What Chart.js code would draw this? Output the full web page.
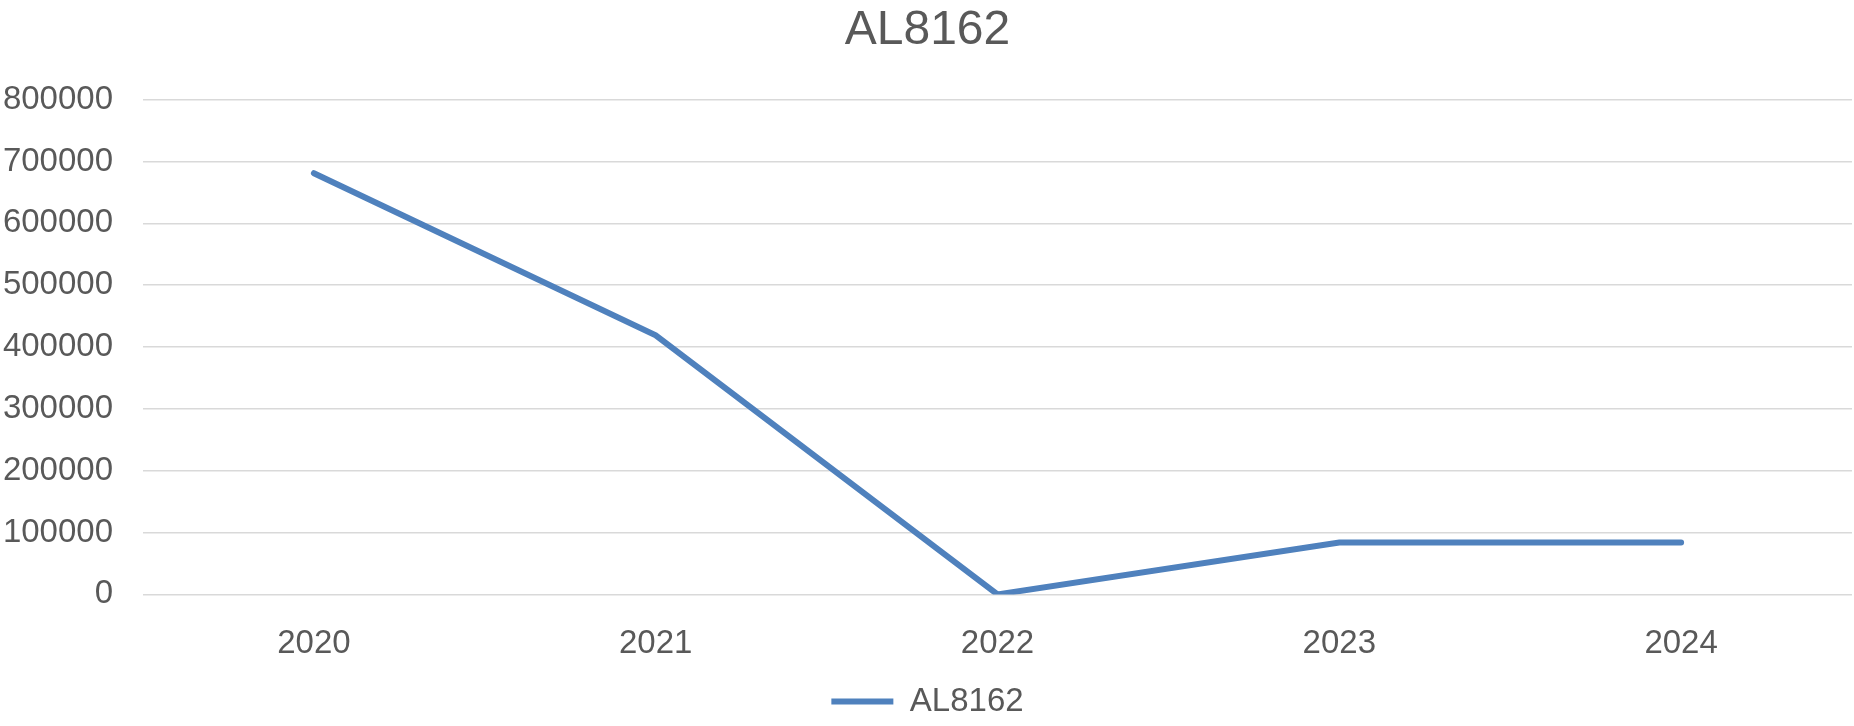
<!DOCTYPE html>
<html>
<head>
<meta charset="utf-8">
<title>AL8162</title>
<script src="https://cdn.jsdelivr.net/npm/chart.js@4"></script>
<style>
    html, body { margin: 0; padding: 0; background: #ffffff; }
    #wrap { width: 1854px; height: 726px; position: relative; }
</style>
</head>
<body>
<div id="wrap"><canvas id="chart"></canvas></div>
<script>
// --- DATA ---
const years = ['2020', '2021', '2022', '2023', '2024'];
const al8162Values = [681000, 419000, 0, 84000, 84000];
const seriesName = 'AL8162';
const yMin = 0;
const yMax = 800000;
const yStep = 100000;

const textColor = '#595959';
const lineColor = '#4f81bd';
const gridColor = '#d9d9d9';
const fontFamily = '"Liberation Sans", Arial, sans-serif';

new Chart(document.getElementById('chart'), {
    type: 'line',
    data: {
        labels: years,
        datasets: [{
            label: seriesName,
            data: al8162Values,
            borderColor: lineColor,
            backgroundColor: lineColor,
            borderWidth: 6,
            borderCapStyle: 'round',
            pointRadius: 0,
            pointHoverRadius: 0,
            tension: 0,
            fill: false
        }]
    },
    options: {
        responsive: true,
        maintainAspectRatio: false,
        animation: false,
        layout: {
            padding: { left: 3, right: 2, top: 0, bottom: -2 }
        },
        plugins: {
            title: {
                display: true,
                text: seriesName,
                color: textColor,
                font: { family: fontFamily, size: 48, weight: 'normal' },
                padding: { top: 2, bottom: 40 }
            },
            legend: {
                position: 'bottom',
                labels: {
                    color: textColor,
                    font: { family: fontFamily, size: 33, lineHeight: 1.0 },
                    usePointStyle: true,
                    pointStyle: 'line',
                    pointStyleWidth: 62,
                    boxHeight: 6,
                    padding: 0
                }
            },
            tooltip: { enabled: false }
        },
        scales: {
            x: {
                offset: true,
                grid: { display: false },
                border: { display: false },
                ticks: {
                    color: textColor,
                    font: { family: fontFamily, size: 33 },
                    padding: 21.5,
                    maxRotation: 0
                }
            },
            y: {
                min: yMin,
                max: yMax,
                grid: { color: gridColor, lineWidth: 1.5, drawTicks: false },
                border: { display: false },
                ticks: {
                    stepSize: yStep,
                    color: textColor,
                    font: { family: fontFamily, size: 33 },
                    padding: 30,
                    callback: (v) => String(v)
                },
                // keep the label column as narrow as in the picture
                afterFit: (scale) => { scale.width = 140; }
            }
        }
    }
});
</script>
</body>
</html>
